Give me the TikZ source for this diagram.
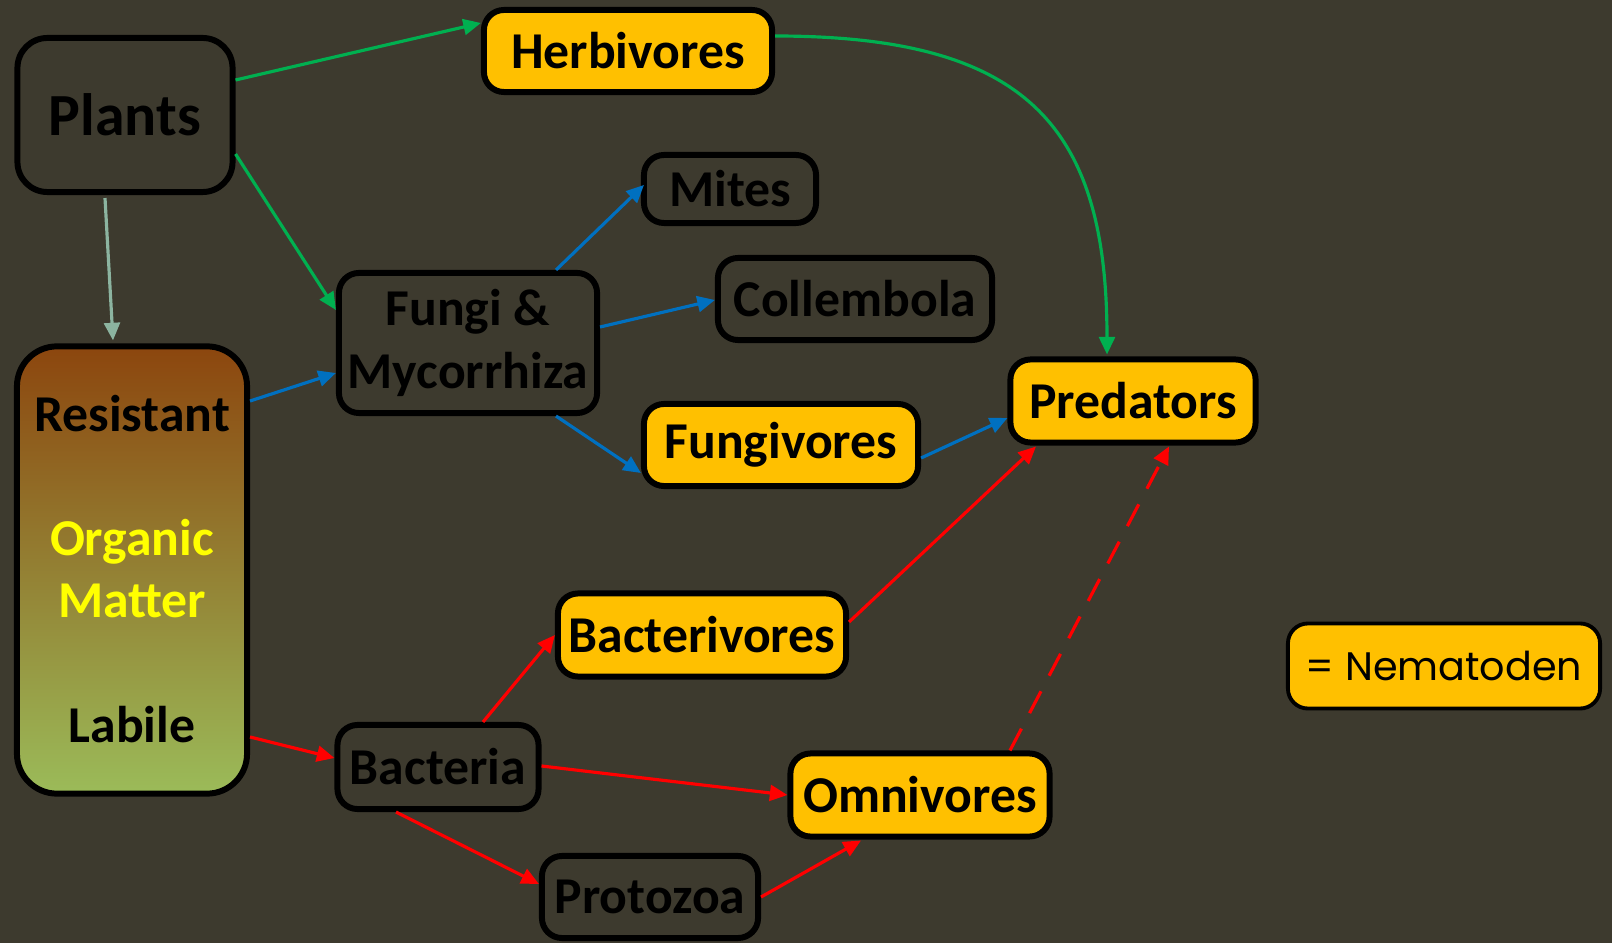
\documentclass[tikz,border=0pt]{standalone}
\usepackage{fontspec}
\setmainfont{Carlito}
\newfontfamily\legendfont{Poppins}
\usetikzlibrary{arrows.meta,calc}

\definecolor{bgolive}{RGB}{61,58,46}
\definecolor{nemaorange}{RGB}{255,192,0}
\definecolor{plantgreen}{RGB}{0,176,80}
\definecolor{fungiblue}{RGB}{0,112,192}
\definecolor{bactred}{RGB}{255,0,0}
\definecolor{litterteal}{RGB}{140,180,160}
\definecolor{ombrown}{RGB}{140,70,14}
\definecolor{omolive}{RGB}{148,135,62}
\definecolor{omgreen}{RGB}{155,187,89}
\definecolor{omyellow}{RGB}{255,255,0}

\begin{document}
\begin{tikzpicture}[
    x=0.01cm, y=-0.01cm,
    taxon/.style={rectangle, draw=black, line width=1.7pt, rounded corners=0.2cm, inner sep=0pt, align=center, font=\bfseries\fontsize{14.7}{17.9}\selectfont},
    nematode/.style={taxon, fill=nemaorange},
    omtext/.style={inner sep=0pt, font=\bfseries\fontsize{14.7}{17.9}\selectfont},
    arrow/.style={-{Triangle[length=5pt,width=4.5pt]}, line width=0.9pt}
]
    % background and page size
    \fill[bgolive] (0,0) rectangle (1612,943);
    \useasboundingbox (0,0) rectangle (1612,943);

    % food web boxes
    \node[taxon, minimum width=2.15cm, minimum height=1.54cm, rounded corners=0.3cm, font=\bfseries\fontsize{17}{20}\selectfont] (plants) at (125,115) {Plants};
    \node[nematode, minimum width=2.88cm, minimum height=0.82cm] (herb) at (628,51) {Herbivores};
    \node[taxon, minimum width=1.72cm, minimum height=0.68cm] (mites) at (730,189) {Mites};
    \node[taxon, minimum width=2.74cm, minimum height=0.82cm] (coll) at (855,299) {Collembola};
    \node[taxon, minimum width=2.58cm, minimum height=1.40cm] (fungi) at (468,343) {Fungi \&\\Mycorrhiza};
    \node[nematode, minimum width=2.74cm, minimum height=0.82cm] (fungiv) at (781,445) {Fungivores};
    \node[nematode, minimum width=2.45cm, minimum height=0.83cm] (pred) at (1133,401) {Predators};
    \node[nematode, minimum width=2.88cm, minimum height=0.83cm] (bacteriv) at (702,635) {Bacterivores};
    \node[taxon, minimum width=2.01cm, minimum height=0.84cm] (bact) at (438,767) {Bacteria};
    \node[nematode, minimum width=2.59cm, minimum height=0.83cm] (omni) at (920,795) {Omnivores};
    \node[taxon, minimum width=2.16cm, minimum height=0.82cm] (proto) at (650,897) {Protozoa};

    % organic matter column
    \node[rectangle, draw=black, line width=1.7pt, rounded corners=0.4cm, top color=ombrown, middle color=omolive, bottom color=omgreen, minimum width=2.30cm, minimum height=4.47cm] (om) at (132,570) {};
    \node[omtext, anchor=base] (resist) at (132,432) {Resistant};
    \node[omtext, anchor=base, text=omyellow] (organic) at (132,555) {Organic};
    \node[omtext, anchor=base, text=omyellow] (matter) at (132,617) {Matter};
    \node[omtext, anchor=base] (labile) at (132,742) {Labile};

    % legend
    \node[rectangle, draw=black, line width=1.1pt, rounded corners=0.2cm, fill=nemaorange, minimum width=3.12cm, minimum height=0.85cm, inner sep=0pt, font=\legendfont\fontsize{11.3}{14}\selectfont] (legend) at (1444,666) {= Nematoden};

    % plant channel
    \draw[arrow, plantgreen] ($(plants.east)+(0,-35)$) -- ($(herb.west)+(0,-28)$);
    \draw[arrow, plantgreen] ($(plants.east)+(0,39)$) -- ($(fungi.west)+(0,-33)$);
    \draw[arrow, litterteal] ($(plants.south)+(-20,3)$) -- ($(om.north)+(-19,-3)$);
    \draw[arrow, plantgreen] ($(herb.east)+(0,-15)$) .. controls +(250,0) and +(0,-230) .. ($(pred.north)+(-26,-2)$);

    % fungal channel
    \draw[arrow, fungiblue] ($(om.east)+(0,-169)$) -- ($(fungi.west)+(0,30)$);
    \draw[arrow, fungiblue] ($(fungi.north)+(88,0)$) -- ($(mites.west)+(3,-4)$);
    \draw[arrow, fungiblue] ($(fungi.east)+(0,-16)$) -- ($(coll.west)+(0,1)$);
    \draw[arrow, fungiblue] ($(fungi.south)+(88,0)$) -- ($(fungiv.west)+(0,28)$);
    \draw[arrow, fungiblue] ($(fungiv.east)+(0,13)$) -- ($(pred.west)+(0,17)$);

    % bacterial channel
    \draw[arrow, bactred] ($(om.east)+(0,167)$) -- ($(bact.west)+(0,-9)$);
    \draw[arrow, bactred] ($(bact.north)+(45,0)$) -- (bacteriv.west);
    \draw[arrow, bactred] ($(bact.east)+(0,-1)$) -- (omni.west);
    \draw[arrow, bactred] ($(bact.south)+(-42,0)$) -- ($(proto.west)+(0,-13)$);
    \draw[arrow, bactred] (proto.east) -- ($(omni.south)+(-59,1)$);
    \draw[arrow, bactred] ($(bacteriv.east)+(0,-13)$) -- ($(pred.south)+(-97,1)$);
    \draw[arrow, bactred, dashed, dash pattern=on 7pt off 5pt] ($(omni.north)+(90,0)$) -- ($(pred.south)+(36,1)$);
\end{tikzpicture}
\end{document}
